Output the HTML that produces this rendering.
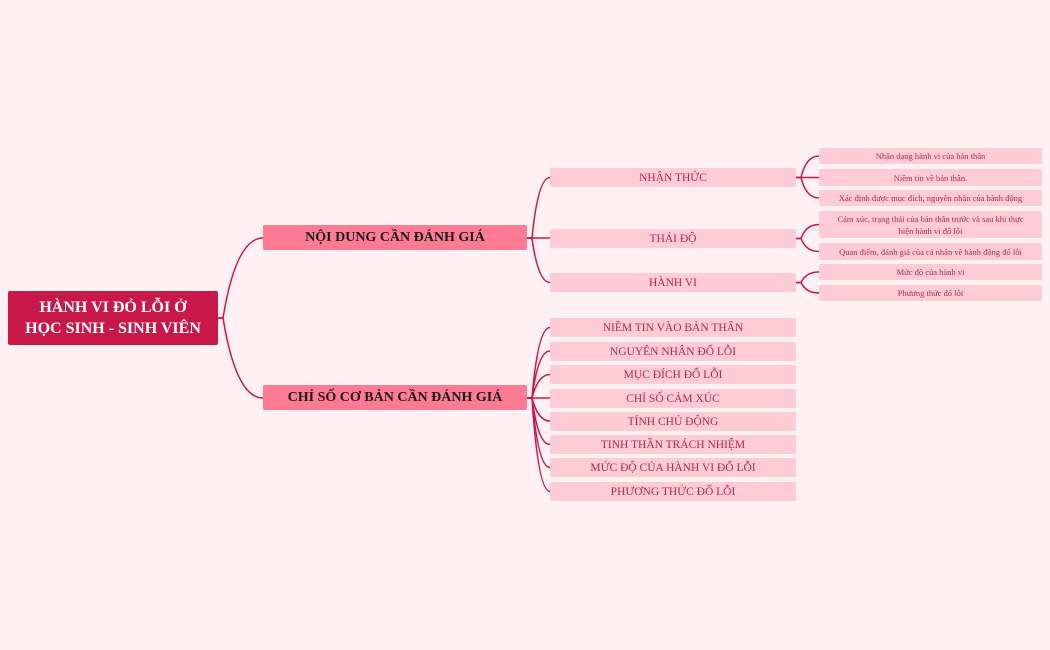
<!DOCTYPE html>
<html><head><meta charset="utf-8"><style>
body{margin:0;background:#fff0f3;width:1050px;height:650px;overflow:hidden;position:relative;font-family:"Liberation Serif",serif}
.b{position:absolute;display:flex;align-items:center;justify-content:center;text-align:center;box-sizing:border-box;border-radius:2px}
.r{background:#c8184a;color:#fff;font-weight:bold;font-size:16px;line-height:21px}
.l1{background:#ff7a93;color:#1a1a1a;font-weight:bold;font-size:14px;left:263px;width:264px;height:25px}
.l2{background:#ffccd5;color:#b3264f;font-size:11.5px;left:550px;width:246px;height:19px}
.l3{background:#ffccd5;color:#b3264f;font-size:8.5px;left:819px;width:223px;line-height:12px}
svg{position:absolute;left:0;top:0}
</style></head><body>
<svg width="1050" height="650" fill="none" stroke="#c8184a" stroke-width="1.5">
<path d="M218 318 H223 Q236 238 263 238"/>
<path d="M218 318 H223 Q236 398 263 398"/>
<path d="M527 238 H532 Q538 177.5 550 177.5"/>
<path d="M527 238 H550"/>
<path d="M527 238 H532 Q538 282.5 550 282.5"/>
<path d="M527 398 H532 Q538 327.5 550 327.5"/>
<path d="M527 398 H532 Q538 351 550 351"/>
<path d="M527 398 H532 Q538 374.5 550 374.5"/>
<path d="M527 398 H550"/>
<path d="M527 398 H532 Q538 421 550 421"/>
<path d="M527 398 H532 Q538 444.5 550 444.5"/>
<path d="M527 398 H532 Q538 467.5 550 467.5"/>
<path d="M527 398 H532 Q538 491.5 550 491.5"/>
<path d="M796 177.5 H801 Q806 156 819 156"/>
<path d="M796 177.5 H819"/>
<path d="M796 177.5 H801 Q806 198 819 198"/>
<path d="M796 238.5 H801 Q806 224.5 819 224.5"/>
<path d="M796 238.5 H801 Q806 251.5 819 251.5"/>
<path d="M796 282.5 H801 Q806 272 819 272"/>
<path d="M796 282.5 H801 Q806 293 819 293"/>
</svg>
<div class="b r" style="left:8px;top:291px;width:210px;height:54px">HÀNH VI ĐỎ LỖI Ở<br>HỌC SINH - SINH VIÊN</div>
<div class="b l1" style="top:225px">NỘI DUNG CẦN ĐÁNH GIÁ</div>
<div class="b l1" style="top:385px">CHỈ SỐ CƠ BẢN CẦN ĐÁNH GIÁ</div>
<div class="b l2" style="top:168px">NHẬN THỨC</div>
<div class="b l2" style="top:229px">THÁI ĐỘ</div>
<div class="b l2" style="top:273px">HÀNH VI</div>
<div class="b l2" style="top:318px">NIỀM TIN VÀO BẢN THÂN</div>
<div class="b l2" style="top:342px">NGUYÊN NHÂN ĐỔ LỖI</div>
<div class="b l2" style="top:365px">MỤC ĐÍCH ĐỔ LỖI</div>
<div class="b l2" style="top:389px">CHỈ SỐ CẢM XÚC</div>
<div class="b l2" style="top:412px">TÍNH CHỦ ĐỘNG</div>
<div class="b l2" style="top:435px">TINH THẦN TRÁCH NHIỆM</div>
<div class="b l2" style="top:458px">MỨC ĐỘ CỦA HÀNH VI ĐỔ LỖI</div>
<div class="b l2" style="top:482px">PHƯƠNG THỨC ĐỔ LỖI</div>
<div class="b l3" style="top:148px;height:16px">Nhận dạng hành vi của bản thân</div>
<div class="b l3" style="top:169px;height:17px">Niềm tin về bản thân.</div>
<div class="b l3" style="top:190px;height:16px">Xác định được mục đích, nguyên nhân của hành động</div>
<div class="b l3" style="top:211px;height:27px">Cảm xúc, trạng thái của bản thân trước và sau khi thực<br>hiện hành vi đổ lỗi</div>
<div class="b l3" style="top:243px;height:17px">Quan điểm, đánh giá của cá nhân về hành động đổ lỗi</div>
<div class="b l3" style="top:264px;height:16px">Mức độ của hành vi</div>
<div class="b l3" style="top:285px;height:16px">Phương thức đổ lỗi</div>
</body></html>
